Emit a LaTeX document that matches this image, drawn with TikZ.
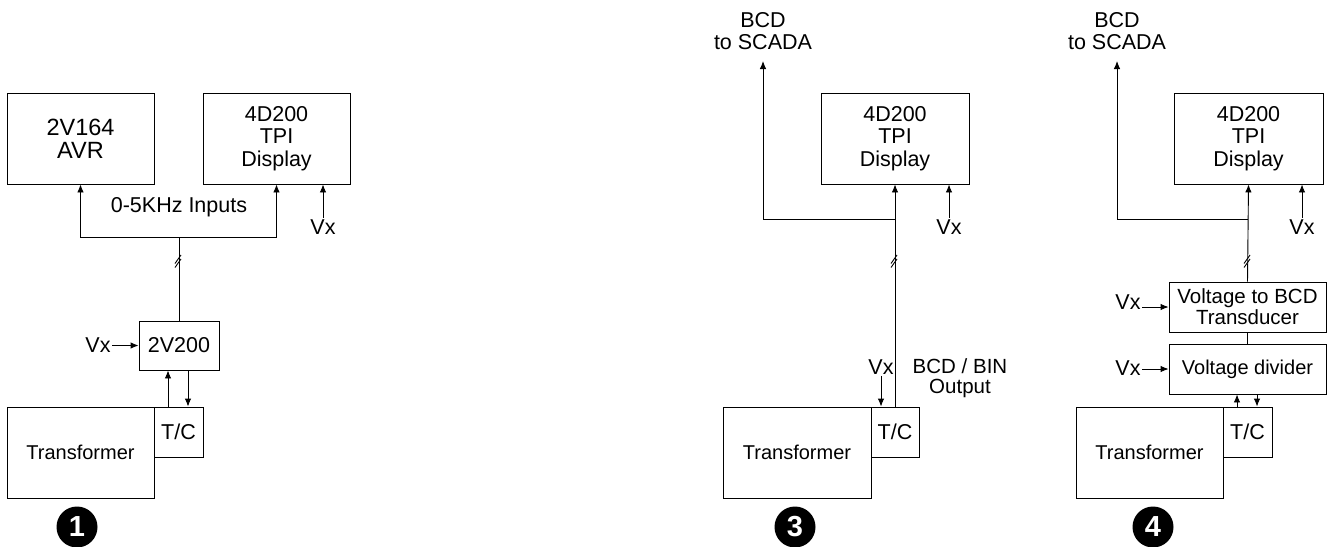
\documentclass[tikz,border=0pt]{standalone}
\usepackage{fontspec}
\setmainfont{Liberation Sans}
\usepackage{tikz}
\usetikzlibrary{arrows.meta, calc, positioning}

\tikzset{
	blk/.style={draw, line width=.9pt, inner sep=0pt, align=center, font=\fontsize{21.5}{22.5}\selectfont},
	txt/.style={inner sep=1pt, align=center, font=\fontsize{21.5}{22}\selectfont},
	arr/.style={-{Latex[length=8pt,width=6.5pt]}},
	num/.style={circle, fill=black, text=white, inner sep=0pt, minimum size=41pt, font=\fontsize{29}{29}\bfseries},
}
\newcommand{\busmark}[1]{\draw ($(#1)+(-4,5.5)$) -- ++(6,-8.5); \draw ($(#1)+(-4,1.5)$) -- ++(6,-8.5);}

\begin{document}
\begin{tikzpicture}[x=1pt, y=-1pt, line width=.9pt]
	\useasboundingbox (0,0) rectangle (1327,546);
	
	% Scheme 1
	\node[blk, minimum width=147, minimum height=91, font=\fontsize{23.5}{23}\selectfont] (avr) at (80.5,138.5) {2V164\\AVR};
	\node[blk, minimum width=147, minimum height=91] (tpiA) at (276.5,138.5) {4D200\\TPI\\Display};
	\node[blk, minimum width=80, minimum height=49] (dv) at (179,345.5) {2V200};
	\node[blk, minimum width=147, minimum height=91, font=\fontsize{20}{21}\selectfont] (trA) at (80.5,452.5) {Transformer};
	\node[blk, minimum width=49, minimum height=50] (tcA) at (178.5,432) {T/C};
	\node[txt] (inp) at (179,207) {0-5KHz Inputs};
	\node[txt] (vxA) at (323,227) {Vx};
	\node[txt, anchor=east] (vxB) at (112,345.5) {Vx};
	\coordinate (jA) at (179,237);
	
	\draw[arr] (jA) -| (avr.south);
	\draw[arr] (jA) -| (tpiA.south);
	\draw (jA) -- (dv.north);
	\busmark{179,262}
	\draw[arr] (vxA.north) -- (vxA.north |- tpiA.south);
	\draw[arr] (vxB.east) -- (dv.west);
	\draw[arr] ([xshift=-11pt]dv.south |- tcA.north) -- ([xshift=-11pt]dv.south);
	\draw[arr] ([xshift=9pt]dv.south) -- ([xshift=9pt]dv.south |- tcA.north);
	\node[num] (n1) at (77,527) {1};
	
	% Scheme 3
	\node[txt] (scadaB) at (763,31) {BCD\\to SCADA};
	\node[blk, minimum width=148, minimum height=91] (tpiB) at (895,138.5) {4D200\\TPI\\Display};
	\node[blk, minimum width=148, minimum height=91, font=\fontsize{20}{21}\selectfont] (trB) at (797,452.5) {Transformer};
	\node[blk, minimum width=48, minimum height=50] (tcB) at (895,432) {T/C};
	\node[txt] (vxC) at (949,227) {Vx};
	\node[txt] (vxD) at (881,367) {Vx};
	\node[txt, font=\fontsize{20.5}{20.5}\selectfont] (bin) at (960,378) {BCD / BIN\\Output};
	\coordinate (jB) at (895,219);
	\coordinate (toScadaB) at (763,61);
	
	\draw[arr] (tcB.north) -- (tpiB.south);
	\draw[arr] (jB) -| (toScadaB);
	\busmark{895,262}
	\draw[arr] (vxC.north) -- (vxC.north |- tpiB.south);
	\draw[arr] (vxD.south) -- (vxD.south |- tcB.north);
	\node[num] (n3) at (795,527) {3};
	
	% Scheme 4
	\node[txt] (scadaC) at (1117,31) {BCD\\to SCADA};
	\node[blk, minimum width=149, minimum height=91] (tpiC) at (1248.5,138.5) {4D200\\TPI\\Display};
	\node[blk, minimum width=157, minimum height=50, font=\fontsize{20.5}{21}\selectfont] (vbcd) at (1247.5,307) {Voltage to BCD\\Transducer};
	\node[blk, minimum width=157, minimum height=50, font=\fontsize{20}{21}\selectfont] (vdiv) at (1247.5,369) {Voltage divider};
	\node[blk, minimum width=147, minimum height=91, font=\fontsize{20}{21}\selectfont] (trC) at (1149.5,452.5) {Transformer};
	\node[blk, minimum width=49, minimum height=50] (tcC) at (1247.5,432) {T/C};
	\node[txt] (vxE) at (1302,227) {Vx};
	\node[txt, anchor=east] (vxF) at (1142,302) {Vx};
	\node[txt, anchor=east] (vxG) at (1142,368) {Vx};
	\coordinate (jC) at (1248,219);
	\coordinate (toScadaC) at (1117,61);
	
	\draw[arr] (vbcd.north) -- (tpiC.south);
	\draw[arr] (jC) -| (toScadaC);
	\busmark{1248,262}
	\draw (vdiv.north) -- (vbcd.south);
	\draw[arr] (vxE.north) -- (vxE.north |- tpiC.south);
	\draw[arr] (vxF.east |- vbcd.west) -- (vbcd.west);
	\draw[arr] (vxG.east |- vdiv.west) -- (vdiv.west);
	\draw[arr] ([xshift=-10.5pt]tcC.north) -- ([xshift=-10.5pt]tcC.north |- vdiv.south);
	\draw[arr] ([xshift=9.5pt]tcC.north |- vdiv.south) -- ([xshift=9.5pt]tcC.north);
	\node[num] (n4) at (1153,527) {4};
\end{tikzpicture}
\end{document}
